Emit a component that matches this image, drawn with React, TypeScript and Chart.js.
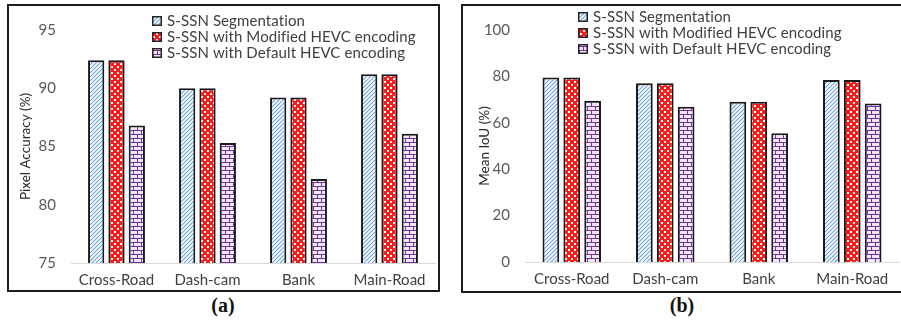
import React, { useEffect, useRef } from "react";
import { Chart, registerables } from "chart.js";

Chart.register(...registerables);

const categories = ["Cross-Road", "Dash-cam", "Bank", "Main-Road"];
const seriesNames = [
  "S-SSN Segmentation",
  "S-SSN with Modified HEVC encoding",
  "S-SSN with Default HEVC encoding",
];

// Panel (a): pixel accuracy (%)
const pixelAccSegmentation = [92.4, 90.0, 89.2, 91.2];
const pixelAccModified = [92.4, 90.0, 89.2, 91.2];
const pixelAccDefault = [86.8, 85.3, 82.2, 86.1];
const pixelAccTicks = [75, 80, 85, 90, 95];

// Panel (b): mean IoU (%)
const iouSegmentation = [79.5, 77.0, 69.1, 78.4];
const iouModified = [79.5, 77.0, 69.1, 78.4];
const iouDefault = [69.5, 66.9, 55.5, 68.3];
const iouTicks = [0, 20, 40, 60, 80, 100];

const FONT = "Lato, 'Open Sans', sans-serif";

function tile(w: number, h: number, paint: (c: CanvasRenderingContext2D) => void) {
  const cv = document.createElement("canvas");
  cv.width = w;
  cv.height = h;
  const c = cv.getContext("2d")!;
  paint(c);
  return cv;
}

function makePatterns(ctx: CanvasRenderingContext2D) {
  const diag = tile(4, 4, (c) => {
    c.fillStyle = "#ffffff";
    c.fillRect(0, 0, 4, 4);
    c.strokeStyle = "#6aa3db";
    c.lineWidth = 1.1;
    c.beginPath();
    c.moveTo(-1, 5);
    c.lineTo(5, -1);
    c.moveTo(-1, 1);
    c.lineTo(1, -1);
    c.moveTo(3, 5);
    c.lineTo(5, 3);
    c.stroke();
  });
  const check = tile(6, 6, (c) => {
    c.fillStyle = "#ff1a1a";
    c.fillRect(0, 0, 6, 6);
    c.fillStyle = "#ffffff";
    c.fillRect(0, 0, 2, 2);
    c.fillRect(3, 3, 2, 2);
  });
  const brick = tile(8, 8, (c) => {
    c.fillStyle = "#f1e8f8";
    c.fillRect(0, 0, 8, 8);
    c.fillStyle = "#7030a0";
    c.fillRect(0, 0, 8, 1);
    c.fillRect(0, 4, 8, 1);
    c.fillRect(0, 0, 1, 4);
    c.fillRect(4, 4, 1, 4);
  });
  return [
    ctx.createPattern(diag, "repeat")!,
    ctx.createPattern(check, "repeat")!,
    ctx.createPattern(brick, "repeat")!,
  ];
}

type PanelProps = {
  left: number;
  top: number;
  width: number;
  height: number;
  series: number[][];
  ticks: number[];
  yTitle: string;
  titlePad: number;
  plotLeft: number;
  plotTop: number;
  plotBottom: number;
  rightPad: number;
  legendX: number;
  legendY: number;
};

function BarPanel(p: PanelProps) {
  const ref = useRef<HTMLCanvasElement | null>(null);

  useEffect(() => {
    const canvas = ref.current!;
    const ctx = canvas.getContext("2d")!;
    const patterns = makePatterns(ctx);

    // Series key drawn inside the plot area, one entry per row
    const legendPlugin = {
      id: "insideLegend",
      afterDraw(chart: any) {
        const c = chart.ctx;
        c.save();
        c.font = `15px ${FONT}`;
        c.textBaseline = "middle";
        seriesNames.forEach((name, i) => {
          const y = p.legendY + i * 16;
          c.fillStyle = patterns[i];
          c.fillRect(p.legendX, y - 5, 10, 10);
          c.strokeStyle = "#262626";
          c.lineWidth = 1.5;
          c.strokeRect(p.legendX + 0.75, y - 4.25, 8.5, 8.5);
          c.fillStyle = "#404040";
          (c as any).letterSpacing = "0.1px";
          c.fillText(name, p.legendX + 15, y + 0.5);
          (c as any).letterSpacing = "0px";
        });
        c.restore();
      },
    };

    const chart = new Chart(ctx, {
      type: "bar",
      data: {
        labels: categories,
        datasets: seriesNames.map((name, i) => ({
          label: name,
          data: p.series[i],
          backgroundColor: patterns[i],
          borderColor: "#1a1a1a",
          borderWidth: 2,
          categoryPercentage: 0.67,
          barPercentage: 0.8,
        })),
      },
      options: {
        animation: false,
        responsive: false,
        maintainAspectRatio: false,
        layout: { padding: { left: 0, right: p.rightPad, top: p.plotTop, bottom: 0 } },
        plugins: { legend: { display: false }, tooltip: { enabled: false } },
        scales: {
          x: {
            grid: { display: false, drawTicks: false, tickLength: 0 },
            border: { display: true, color: "#d9d9d9", width: 1 },
            ticks: { color: "#404040", font: { family: FONT, size: 15 }, padding: 8 },
            afterFit: (s: any) => {
              s.height = p.height - p.plotBottom;
            },
          },
          y: {
            min: p.ticks[0],
            max: p.ticks[p.ticks.length - 1],
            afterBuildTicks: (s: any) => {
              s.ticks = p.ticks.map((v) => ({ value: v }));
            },
            grid: { display: false, drawTicks: false, tickLength: 0 },
            border: { display: false },
            ticks: { color: "#595959", font: { family: FONT, size: 15 }, padding: 15 },
            title: {
              display: true,
              text: p.yTitle,
              color: "#262626",
              font: { family: FONT, size: 13.5 },
              padding: { top: p.titlePad, bottom: 0 },
            },
            afterFit: (s: any) => {
              s.width = p.plotLeft;
            },
          },
        },
      },
      plugins: [legendPlugin],
    });
    return () => chart.destroy();
  }, []);

  return (
    <canvas
      ref={ref}
      width={p.width}
      height={p.height}
      style={{ position: "absolute", left: p.left, top: p.top, width: p.width, height: p.height }}
    />
  );
}

const frame = (left: number, top: number, width: number, height: number): React.CSSProperties => ({
  position: "absolute",
  left,
  top,
  width,
  height,
  border: "2px solid #1c1c1c",
  boxSizing: "border-box",
});

const caption = (cx: number): React.CSSProperties => ({
  position: "absolute",
  left: cx - 30,
  width: 60,
  top: 294,
  textAlign: "center",
  fontFamily: "'Liberation Serif', 'Times New Roman', serif",
  fontWeight: "bold",
  fontSize: 20,
  color: "#111",
});

export default function App() {
  return (
    <div
      style={{
        position: "absolute",
        left: 0,
        top: 0,
        width: 901,
        height: 322,
        background: "#ffffff",
        overflow: "hidden",
      }}
    >
      <div style={frame(7, 4, 433, 288)} />
      <BarPanel
        left={9}
        top={6}
        width={429}
        height={284}
        series={[pixelAccSegmentation, pixelAccModified, pixelAccDefault]}
        ticks={pixelAccTicks}
        yTitle="Pixel Accuracy (%)"
        titlePad={9}
        plotLeft={62}
        plotTop={11}
        plotBottom={257}
        rightPad={3}
        legendX={143}
        legendY={15}
      />
      <div style={frame(461, 4, 444, 289)} />
      <BarPanel
        left={463}
        top={6}
        width={438}
        height={284}
        series={[iouSegmentation, iouModified, iouDefault]}
        ticks={iouTicks}
        yTitle="Mean IoU (%)"
        titlePad={14}
        plotLeft={62}
        plotTop={11}
        plotBottom={256}
        rightPad={2}
        legendX={115}
        legendY={11}
      />
      <div style={caption(223)}>(a)</div>
      <div style={caption(682)}>(b)</div>
    </div>
  );
}
